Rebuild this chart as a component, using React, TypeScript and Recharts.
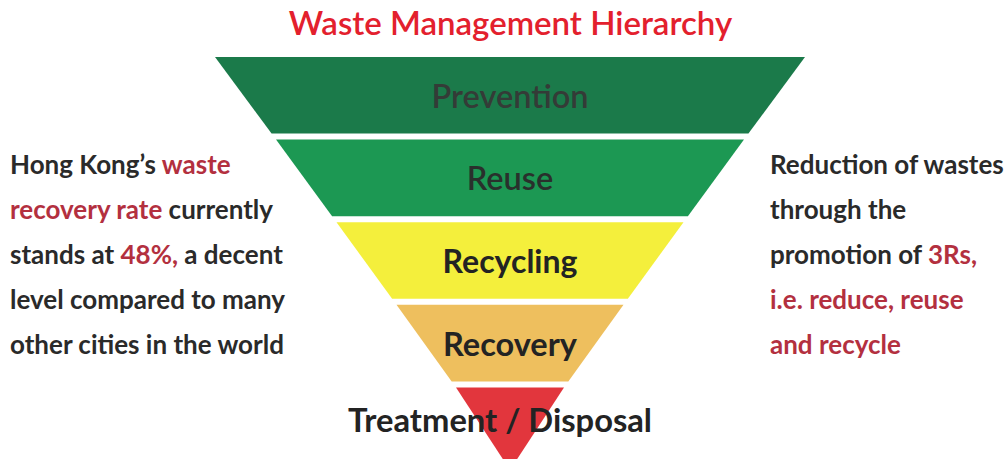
import React from 'react';
import { FunnelChart, Funnel, Cell } from 'recharts';

// Hierarchy levels, top (most preferred) to bottom
const levels = ['Prevention', 'Reuse', 'Recycling', 'Recovery', 'Treatment / Disposal'];
// Relative width of each level (top edge of each band)
const levelWidths = [590, 468, 347, 227, 108];
const levelColors = ['#1b7a4a', '#1c9853', '#f4ef3c', '#eebf5e', '#e2363d'];
const labelColors = ['#343b37', '#29302c', '#232323', '#232323', '#232323'];
const labelSizes = [32.5, 32.5, 32, 32.5, 32.7];
const labelWeights = [600, 600, 700, 700, 700];

const title = 'Waste Management Hierarchy';
const leftNote: { t: string; red?: boolean }[][] = [
  [{ t: 'Hong Kong\u2019s ' }, { t: 'waste', red: true }],
  [{ t: 'recovery rate', red: true }, { t: ' currently' }],
  [{ t: 'stands at ' }, { t: '48%,', red: true }, { t: ' a decent' }],
  [{ t: 'level compared to many' }],
  [{ t: 'other cities in the world' }],
];
const rightNote: { t: string; red?: boolean }[][] = [
  [{ t: 'Reduction of wastes' }],
  [{ t: 'through the' }],
  [{ t: 'promotion of ' }, { t: '3Rs,', red: true }],
  [{ t: 'i.e. reduce, reuse', red: true }],
  [{ t: 'and recycle', red: true }],
];

const data = levels.map((name, i) => ({ name, value: levelWidths[i] }));

const GAP = 6;
const FONT = 'Lato, "Open Sans", sans-serif';

function Band(props: any) {
  const { x, y, upperWidth, lowerWidth, height } = props;
  const idx = levels.indexOf(props.name ?? props.payload?.name);
  const last = !lowerWidth;
  const h = last ? height : height - GAP;
  const lw = upperWidth + ((lowerWidth || 0) - upperWidth) * (h / height);
  const cx = x + upperWidth / 2;
  const d = `M${cx - upperWidth / 2},${y} L${cx + upperWidth / 2},${y} L${cx + lw / 2},${y + h} L${cx - lw / 2},${y + h} Z`;
  const ty = y + h / 2 + (last ? -9 : 0);
  const tx = cx + (last ? -10 : 0);
  return (
    <g>
      <path d={d} fill={levelColors[idx]} />
      <text
        x={tx}
        y={ty}
        textAnchor="middle"
        dominantBaseline="central"
        fontFamily={FONT}
        fontSize={labelSizes[idx]}
        fontWeight={labelWeights[idx]}
        fill={labelColors[idx]}
      >
        {levels[idx]}
      </text>
    </g>
  );
}

function Note({ lines, left, top }: { lines: { t: string; red?: boolean }[][]; left: number; top: number }) {
  return (
    <div
      style={{
        position: 'absolute',
        left,
        top,
        fontFamily: FONT,
        fontWeight: 700,
        fontSize: 26,
        lineHeight: '45px',
        color: '#2a2a2a',
        whiteSpace: 'pre',
      }}
    >
      {lines.map((ln, i) => (
        <div key={i}>
          {ln.map((s, j) => (
            <span key={j} style={{ color: s.red ? '#b3303f' : undefined }}>
              {s.t}
            </span>
          ))}
        </div>
      ))}
    </div>
  );
}

export default function App() {
  return (
    <div
      style={{
        position: 'absolute',
        left: 0,
        top: 0,
        width: 1007,
        height: 459,
        overflow: 'hidden',
        background: '#ffffff',
      }}
    >
      <div
        style={{
          position: 'absolute',
          left: 0,
          width: 1007,
          top: 1,
          textAlign: 'center',
          paddingLeft: 14,
          boxSizing: 'border-box',
          fontFamily: FONT,
          fontSize: 33,
          fontWeight: 600,
          color: '#e3202d',
          lineHeight: '42px',
        }}
      >
        {title}
      </div>
      <div style={{ position: 'absolute', left: 215, top: 57 }}>
        <FunnelChart width={590} height={413} margin={{ top: 0, right: 0, bottom: 0, left: 0 }}>
          <Funnel
            dataKey="value"
            nameKey="name"
            data={data}
            isAnimationActive={false}
            lastShapeType="triangle"
            shape={Band}
          >
            {data.map((d, i) => (
              <Cell key={d.name} fill={levelColors[i]} />
            ))}
          </Funnel>
        </FunnelChart>
      </div>
      <Note lines={leftNote} left={10} top={142} />
      <Note lines={rightNote} left={770} top={142} />
    </div>
  );
}
